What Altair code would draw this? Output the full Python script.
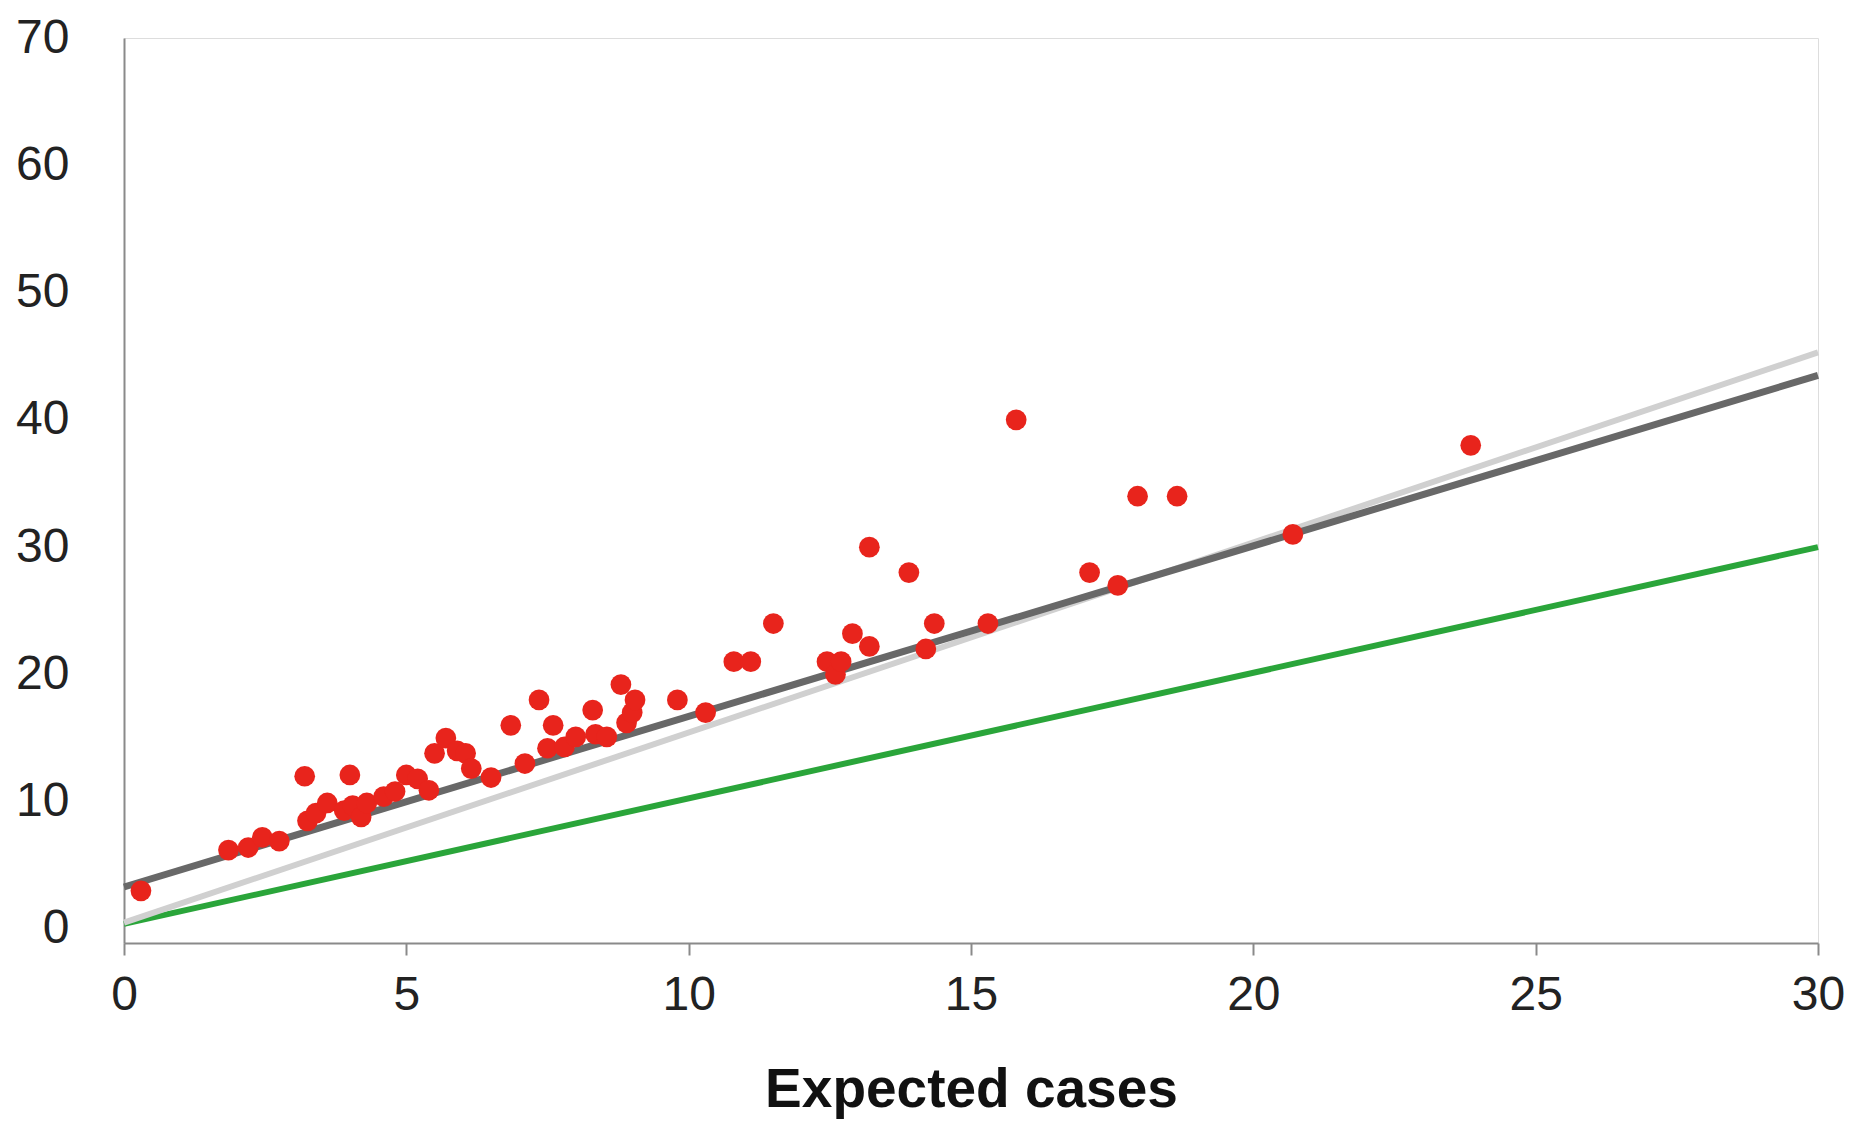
import altair as alt
import pandas as pd

# Observed points (expected cases, observed cases)
obs_x = [0.3, 1.85, 2.2, 2.45, 2.75, 3.2, 3.25, 3.4, 3.6, 3.9, 4.0, 4.05, 4.2, 4.3,
         4.6, 4.8, 5.0, 5.2, 5.4, 5.5, 5.7, 5.9, 6.05, 6.15, 6.5, 6.85, 7.1, 7.35,
         7.5, 7.6, 7.8, 8.0, 8.3, 8.35, 8.55, 8.8, 8.9, 9.0, 9.05, 9.8, 10.3, 10.8,
         11.1, 11.5, 12.45, 12.6, 12.7, 12.9, 13.2, 13.2, 13.9, 14.2, 14.35, 15.3,
         15.8, 17.1, 17.6, 17.95, 18.65, 20.7, 23.85]
obs_y = [3, 6.2, 6.4, 7.2, 6.9, 12, 8.5, 9.1, 9.9, 9.3, 12.1, 9.7, 8.8, 9.9,
         10.4, 10.8, 12.1, 11.8, 10.9, 13.8, 15, 14, 13.8, 12.6, 11.9, 16, 13, 18,
         14.2, 16, 14.3, 15.1, 17.2, 15.3, 15.1, 19.2, 16.2, 17.0, 18.0, 18, 17, 21,
         21, 24, 21, 20, 21, 23.2, 22.2, 30, 28, 22, 24, 24,
         40, 28, 27, 34, 34, 31, 38]

# Reference lines (endpoints)
line_names = ["light", "light", "dark", "dark", "green", "green"]
line_x = [0, 30, 0, 30, 0, 30]
line_y = [0.5, 45.3, 3.3, 43.5, 0.4, 30.0]

x_ticks = [0, 5, 10, 15, 20, 25, 30]
y_ticks = [0, 10, 20, 30, 40, 50, 60, 70]

pts = pd.DataFrame({"x": obs_x, "y": obs_y})
lines = pd.DataFrame({"series": line_names, "x": line_x, "y": line_y})

FONT = "Liberation Sans"

xs = alt.Scale(domain=[0, 30], nice=False, zero=False)
ys = alt.Scale(domain=[-1.1, 70], nice=False, zero=False)

x_axis = alt.Axis(values=x_ticks, format="d", title="Expected cases", grid=False,
                  domainColor="#8a8a8a", domainWidth=2, tickColor="#8a8a8a",
                  tickWidth=2, tickSize=12, labelFontSize=48, labelFont=FONT,
                  labelColor="#222222", labelPadding=16, labelFlush=False,
                  titleFont=FONT, titleFontSize=55, titleFontWeight="bold",
                  titleColor="#111111", titlePadding=44)
y_axis = alt.Axis(values=y_ticks, format="d", title=None, grid=False,
                  domainColor="#8a8a8a", domainWidth=2, ticks=False,
                  labelFontSize=48, labelFont=FONT, labelColor="#222222",
                  labelPadding=55, labelFlush=False)

green = alt.Chart(lines[lines.series == "green"]).mark_line(
    strokeWidth=6, color="#2aa53a").encode(x=alt.X("x:Q", scale=xs, axis=x_axis),
                                             y=alt.Y("y:Q", scale=ys, axis=y_axis))
light = alt.Chart(lines[lines.series == "light"]).mark_line(
    strokeWidth=6, color="#d0d0d0").encode(x=alt.X("x:Q", scale=xs),
                                             y=alt.Y("y:Q", scale=ys))
dark = alt.Chart(lines[lines.series == "dark"]).mark_line(
    strokeWidth=7, color="#686868").encode(x=alt.X("x:Q", scale=xs),
                                             y=alt.Y("y:Q", scale=ys))

points = alt.Chart(pts).mark_circle(size=430, opacity=1, color="#e8241c").encode(
    x=alt.X("x:Q", scale=xs),
    y=alt.Y("y:Q", scale=ys),
)

chart = alt.layer(green, light, dark, points).properties(
    width=1694,
    height=905,
    autosize=alt.AutoSizeParams(type="none"),
    padding={"left": 116, "top": 30, "right": 28, "bottom": 180},
).configure_view(stroke=None).configure(background="white")

chart.save("out.html", embed_options={"renderer": "svg", "actions": False})
